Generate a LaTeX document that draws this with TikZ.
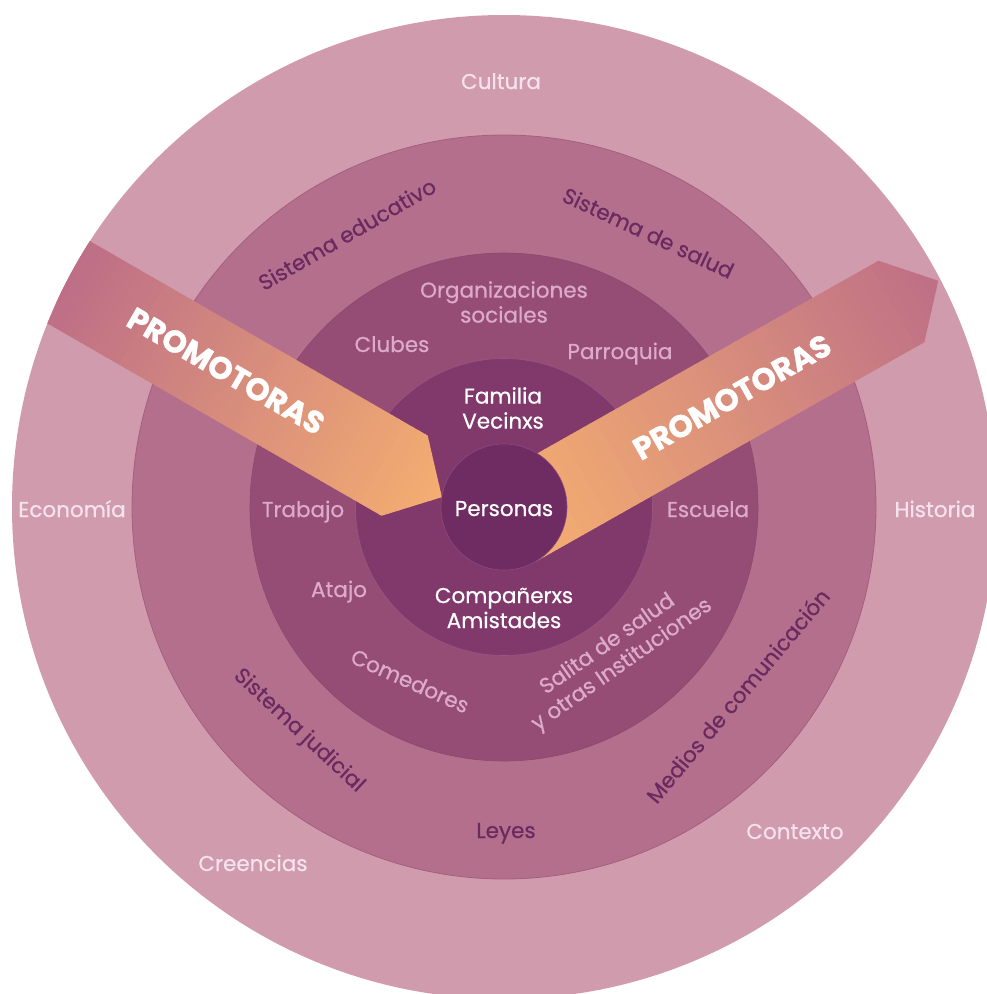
\documentclass[tikz,border=0pt]{standalone}
\usepackage{fontspec}
\setmainfont{Poppins}
\definecolor{ringA}{HTML}{D19BAE}
\definecolor{ringB}{HTML}{B46F8C}
\definecolor{ringC}{HTML}{964D75}
\definecolor{ringD}{HTML}{81386B}
\definecolor{ringE}{HTML}{6E2C63}
\definecolor{edgeB}{HTML}{A45F80}
\definecolor{edgeC}{HTML}{8E4670}
\definecolor{edgeD}{HTML}{9A5585}
\definecolor{edgeE}{HTML}{8E4A80}
\definecolor{txtA}{HTML}{F5E3EC}
\definecolor{txtB}{HTML}{6A2A60}
\definecolor{txtC}{HTML}{DDAACB}
\definecolor{roseC}{HTML}{BE6F87}
\definecolor{orangeC}{HTML}{F5AF70}
\begin{document}
\begin{tikzpicture}[x=1pt,y=-1pt,
  lbl/.style={font=\fontsize{21.5}{25}\selectfont\addfontfeature{FakeBold=0.6}, inner sep=0pt, align=center},
  outerlbl/.style={lbl, text=txtA},
  syslbl/.style={lbl, text=txtB},
  midlbl/.style={lbl, text=txtC},
  corelbl/.style={lbl, text=white},
  promolbl/.style={font=\fontsize{31}{31}\selectfont\bfseries\addfontfeature{FakeBold=1.2}, text=white, inner sep=0pt}]
\useasboundingbox (0,0) rectangle (987,994);
\clip (0,0) rectangle (987,994);
% rings
\fill[ringA] (504,507) circle (492pt);
\filldraw[fill=ringB, draw=edgeB, line width=0.8pt] (504,507) circle (372pt);
\filldraw[fill=ringC, draw=edgeC, line width=0.6pt] (504,507) circle (254pt);
\filldraw[fill=ringD, draw=edgeD, line width=0.6pt] (504,507) circle (148.5pt);
% left band
\begin{scope}
  \clip (504,507) circle (492pt);
  \begin{scope}[rotate=-29.93]
    \clip (150,164.1) -- (588,164.1) -- (631,210.35) -- (588,256.6) -- (150,256.6) -- cycle;
    \fill[roseC] (150,150) rectangle (200,270);
    \foreach \i in {0,...,59}{
      \pgfmathsetmacro\sv{195+\i*7.5}
      \pgfmathtruncatemacro\pv{min(100,max(0,(\sv-198)/433*100))}
      \fill[orangeC!\pv!roseC] (\sv,150) rectangle ++(8.5,120);
    }
  \end{scope}
\end{scope}
% right band
\begin{scope}[rotate=29.45]
  \clip (189.5,659) -- (636.7,659) -- (679,705.75) -- (636.7,752.5) -- (189.5,752.5) -- cycle;
  \foreach \i in {0,...,66}{
    \pgfmathsetmacro\sv{185+\i*7.5}
    \pgfmathtruncatemacro\pv{min(100,max(0,(679-\sv)/489.5*100))}
    \fill[orangeC!\pv!roseC] (\sv,640) rectangle ++(8.5,130);
  }
\end{scope}
% core
\filldraw[fill=ringE, draw=edgeE, line width=0.6pt] (504,507) circle (63pt);
% outer ring labels
\node[outerlbl, anchor=base] (cultura) at (501,89) {Cultura};
\node[outerlbl, anchor=base] (economia) at (72,517) {Economía};
\node[outerlbl, anchor=base] (historia) at (935,517) {Historia};
\node[outerlbl, anchor=base] (creencias) at (253,871) {Creencias};
\node[outerlbl, anchor=base] (contexto) at (795,839) {Contexto};
% second ring labels
\node[syslbl, anchor=base, rotate=30] (educ) at (351,241) {Sistema educativo};
\node[syslbl, anchor=base, rotate=-25] (salud) at (645,240) {Sistema de salud};
\node[syslbl, anchor=base, rotate=-43] (judicial) at (295,735) {Sistema judicial};
\node[syslbl, anchor=base] (leyes) at (506,838) {Leyes};
\node[syslbl, anchor=base, rotate=50] (medios) at (744,701) {Medios de comunicación};
% third ring labels
\node[midlbl] (org) at (504,302) {Organizaciones\\sociales};
\node[midlbl, anchor=base] (clubes) at (392,352) {Clubes};
\node[midlbl, anchor=base] (parroquia) at (620,359) {Parroquia};
\node[midlbl, anchor=base] (trabajo) at (303,517) {Trabajo};
\node[midlbl, anchor=base] (escuela) at (708,517) {Escuela};
\node[midlbl, anchor=base] (atajo) at (339,597) {Atajo};
\node[midlbl, anchor=base, rotate=-24] (comedores) at (407,688) {Comedores};
\node[midlbl, rotate=35] (salita) at (615,655) {Salita de salud\\y otras Instituciones};
% fourth ring and core labels
\node[corelbl] (familia) at (503,408) {Familia\\Vecinxs};
\node[corelbl] (companerxs) at (504,608) {Compañerxs\\Amistades};
\node[corelbl, anchor=base] (personas) at (504,516) {Personas};
% band labels
\node[promolbl, rotate=-30] (promoL) at (226,371) {PROMOTORAS};
\node[promolbl, rotate=29.5] (promoR) at (732,397) {PROMOTORAS};
\end{tikzpicture}
\end{document}
